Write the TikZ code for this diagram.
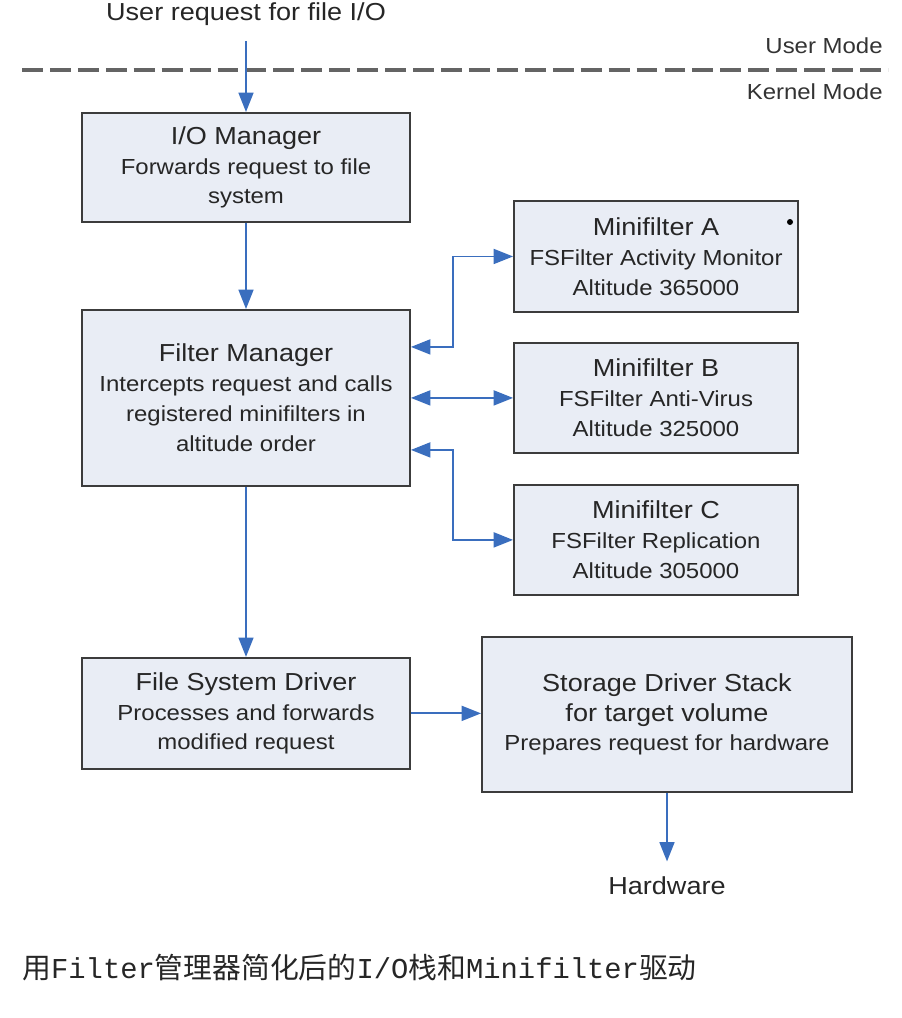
\documentclass[tikz,border=0pt]{standalone}
\usepackage{fontspec}
\setmainfont[FakeStretch=1.1]{Liberation Sans}
\newfontfamily\cjk{Noto Sans CJK SC}
\newfontfamily\capmono{Liberation Mono}
\usepackage{tikz}
\usetikzlibrary{arrows.meta}
\usetikzlibrary{calc}

\definecolor{flowblue}{RGB}{58,110,190}
\definecolor{boxfill}{RGB}{233,237,245}
\definecolor{boxline}{RGB}{60,60,60}
\definecolor{modeline}{RGB}{100,100,100}

\newcommand{\boxtitle}[1]{{\fontsize{14}{17}\selectfont #1}}

\begin{document}
\begin{tikzpicture}[x=0.02cm, y=-0.02cm]
    \tikzstyle{dedge} = [line width=1pt,-{Triangle[length=11pt,width=8.5pt]},draw=flowblue]
    \tikzstyle{bedge} = [dedge,{Triangle[length=11pt,width=8.5pt]}-{Triangle[length=11pt,width=8.5pt]}]
    \tikzstyle{block}=[
      rectangle,
      draw=boxline,
      fill=boxfill,
      line width=1.1pt,
      align=center,
      inner sep=0pt,
      text=black!85,
      font=\fontsize{12.4}{17}\selectfont,
    ]
    \tikzstyle{wide}=[
      block,
      minimum width=6.56cm,
    ]
    \tikzstyle{mini}=[
      block,
      minimum width=5.68cm,
      minimum height=2.2cm,
    ]
    \tikzstyle{plain}=[
      text=black!85,
      inner xsep=0pt,
      inner ysep=0.3cm,
      font=\fontsize{14}{16}\selectfont,
    ]
    \tikzstyle{mode}=[
      text=black!80,
      inner sep=0pt,
      anchor=east,
      font=\fontsize{12.4}{14}\selectfont,
    ]

    \useasboundingbox (0,0) rectangle (902,1018);

    \coordinate (leftAnchor) at (246,0);
    \coordinate (rightAnchor) at (656,0);

    % user / kernel boundary
    {
      \node[plain] (userReq) at ([yshift=-0.28cm] leftAnchor) {User request for file I/O};
      \draw[modeline, line width=2.2pt, dash pattern=on 11.9pt off 4pt] (22,70) -- (888,70);
      \node[mode] (userMode) at (883,46) {User Mode};
      \node[mode] (kernelMode) at (883,92) {Kernel Mode};
    }

    % left column
    {
      \node[wide, minimum height=2.18cm] (ioMgr) at ([yshift=-3.35cm] leftAnchor) {\boxtitle{I/O Manager}\\ Forwards request to file\\ system};
      \node[wide, minimum height=3.52cm] (filterMgr) at ([yshift=-7.96cm] leftAnchor) {\boxtitle{Filter Manager}\\ Intercepts request and calls\\ registered minifilters in\\ altitude order};
      \node[wide, minimum height=2.22cm] (fsd) at ([yshift=-14.27cm] leftAnchor) {\boxtitle{File System Driver}\\ Processes and forwards\\ modified request};
    }

    % minifilters
    {
      \node[mini, minimum height=2.22cm] (miniA) at ([yshift=-5.13cm] rightAnchor) {\boxtitle{Minifilter A}\\ FSFilter Activity Monitor\\ Altitude 365000};
      \node[mini] (miniB) at ([yshift=-7.96cm] rightAnchor) {\boxtitle{Minifilter B}\\ FSFilter Anti-Virus\\ Altitude 325000};
      \node[mini] (miniC) at ([yshift=-10.8cm] rightAnchor) {\boxtitle{Minifilter C}\\ FSFilter Replication\\ Altitude 305000};
      \fill[black] (790,222) circle (0.06cm);
    }

    % storage
    {
      \node[block, minimum width=7.4cm, minimum height=3.1cm] (storage) at ([xshift=0.22cm, yshift=-14.29cm] rightAnchor) {\boxtitle{Storage Driver Stack}\\ \boxtitle{for target volume}\\ Prepares request for hardware};
      \node[plain] (hardware) at ([xshift=0.22cm, yshift=-17.72cm] rightAnchor) {Hardware};
    }

    \draw[dedge] (userReq)--(ioMgr);
    \draw[dedge] (ioMgr)--(filterMgr);
    \draw[dedge] (filterMgr)--(fsd);
    \draw[dedge] (fsd.east)--(fsd.east -| storage.west);
    \draw[dedge] (storage)--(hardware);

    \draw[bedge] ([yshift=1.02cm]filterMgr.east) -- ++(0.84cm,0) |- (miniA.west);
    \draw[bedge] (filterMgr.east)--(filterMgr.east -| miniB.west);
    \draw[bedge] ([yshift=-1.04cm]filterMgr.east) -- ++(0.84cm,0) |- (miniC.west);

    % caption
    {
      \node[anchor=west, inner sep=0pt, text=black!85, font=\fontsize{16.4}{18}\selectfont] (caption) at (22,968)
        {\cjk 用\capmono Filter\cjk 管理器简化后的\capmono I/O\cjk 栈和\capmono Minifilter\cjk 驱动};
    }
\end{tikzpicture}
\end{document}
